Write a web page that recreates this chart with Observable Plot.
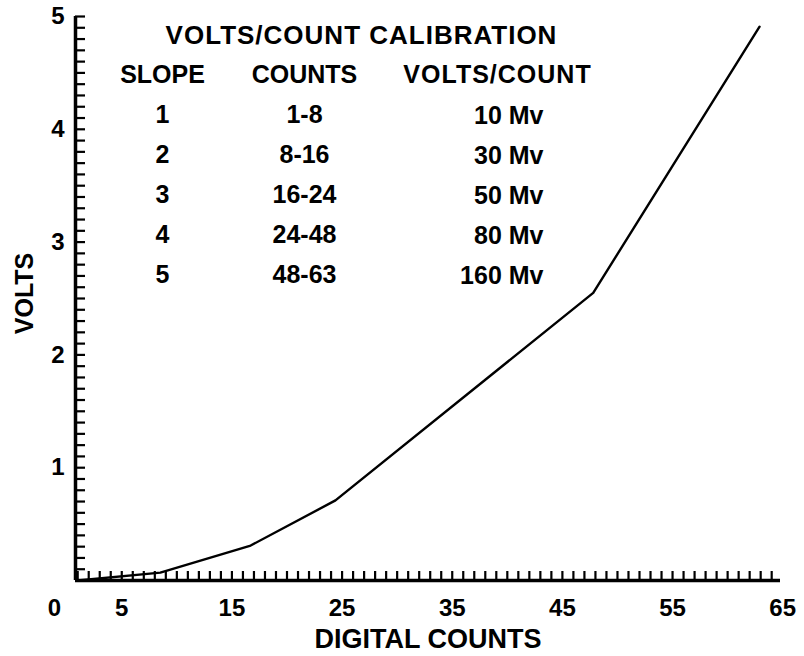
<!DOCTYPE html>
<html>
<head>
<meta charset="utf-8">
<script src="https://cdn.jsdelivr.net/npm/d3@7"></script>
<script src="https://cdn.jsdelivr.net/npm/@observablehq/plot@0.6"></script>
<style>
  body { margin: 0; background: #fff; }
  #chart svg { display: block; }
</style>
</head>
<body>
<div id="chart"></div>
<script>
// ---- data ----
const counts = [1, 8.5, 16.7, 24.4, 47.8, 62.9];
const volts  = [0, 0.07, 0.31, 0.71, 2.55, 4.91];

const xTickLabels = [5, 15, 25, 35, 45, 55, 65];
const yTickLabels = [1, 2, 3, 4, 5];
const originLabel = ["0"];
const xTitle = "DIGITAL COUNTS";
const yTitle = "VOLTS";

const tableTitle = "VOLTS/COUNT CALIBRATION";
const tableHeaders = ["SLOPE", "COUNTS", "VOLTS/COUNT"];
const slopes = ["1", "2", "3", "4", "5"];
const countRanges = ["1-8", "8-16", "16-24", "24-48", "48-63"];
const voltsPerCount = ["10 Mv", "30 Mv", "50 Mv", "80 Mv", "160 Mv"];

const xDomain = [0.8, 64.8];
const yDomain = [0, 5];
const xMinorTicks = d3.range(1, 65);
const yMinorTicks = d3.range(1, 51).map(i => i / 10);

// ---- build ----
const curve = counts.map((c, i) => ({count: c, volts: volts[i]}));
const F = "'Liberation Sans', Arial, Helvetica, sans-serif";
const txt = {fontWeight: "bold", fill: "black"};

const chart = Plot.plot({
  width: 804,
  height: 656,
  marginLeft: 75,
  marginRight: 24,
  marginTop: 16,
  marginBottom: 76,
  style: {fontFamily: F, background: "white", color: "black"},
  x: {domain: xDomain},
  y: {domain: yDomain},
  marks: [
    // minor ticks pointing inward from the axes
    Plot.ruleX(xMinorTicks, {x: d => d, y1: () => yDomain[0], y2: () => yDomain[0], insetTop: -9, stroke: "black", strokeWidth: 2.2}),
    Plot.ruleY(yMinorTicks, {y: d => d, x1: () => xDomain[0], x2: () => xDomain[0], insetRight: -10, stroke: "black", strokeWidth: 2.2}),
    // axis lines
    Plot.ruleX([xDomain[0]], {stroke: "black", strokeWidth: 3.5}),
    Plot.ruleY([yDomain[0]], {stroke: "black", strokeWidth: 3.5}),
    // tick labels
    Plot.axisX(xTickLabels, {tickSize: 0, tickPadding: 18, fontSize: 24, fontWeight: "bold", label: null, tickFormat: d => String(d)}),
    Plot.axisY(yTickLabels, {tickSize: 0, tickPadding: 11, fontSize: 24, fontWeight: "bold", label: null, tickFormat: d => String(d)}),
    Plot.text(originLabel, {frameAnchor: "bottom-left", text: d => d, dx: -21, dy: 18, lineAnchor: "top", textAnchor: "middle", fontSize: 24, ...txt}),
    // axis titles
    Plot.text([xTitle], {frameAnchor: "bottom", text: d => d, dy: 48, lineAnchor: "top", textAnchor: "middle", fontSize: 27, ...txt}),
    Plot.text([yTitle], {frameAnchor: "left", text: d => d, dx: -51, dy: -5, rotate: -90, lineAnchor: "middle", textAnchor: "middle", fontSize: 25, ...txt}),
    // curve
    Plot.line(curve, {x: "count", y: "volts", stroke: "black", strokeWidth: 2.4, strokeLinejoin: "round"}),
    // calibration table
    Plot.text([tableTitle], {frameAnchor: "top-left", text: d => d, dx: 286, dy: 9, lineAnchor: "top", textAnchor: "middle", fontSize: 26, ...txt}),
    Plot.text([[tableHeaders[0], ...slopes].join("\n")], {frameAnchor: "top-left", text: d => d, dx: 87, dy: 38, lineAnchor: "top", textAnchor: "middle", lineHeight: 1.6, fontSize: 25, ...txt}),
    Plot.text([[tableHeaders[1], ...countRanges].join("\n")], {frameAnchor: "top-left", text: d => d, dx: 229, dy: 38, lineAnchor: "top", textAnchor: "middle", lineHeight: 1.6, fontSize: 25, ...txt}),
    Plot.text([tableHeaders[2]], {frameAnchor: "top-left", text: d => d, dx: 422, dy: 49, lineAnchor: "top", textAnchor: "middle", fontSize: 25, ...txt}),
    Plot.text([voltsPerCount.join("\n")], {frameAnchor: "top-left", text: d => d, dx: 468, dy: 79, lineAnchor: "top", textAnchor: "end", lineHeight: 1.6, fontSize: 25, ...txt})
  ]
});
d3.select(chart).selectAll("text")
  .filter(function () { return this.textContent === tableTitle || this.textContent === tableHeaders[2]; })
  .attr("letter-spacing", 1);
document.getElementById("chart").appendChild(chart);
</script>
</body>
</html>
